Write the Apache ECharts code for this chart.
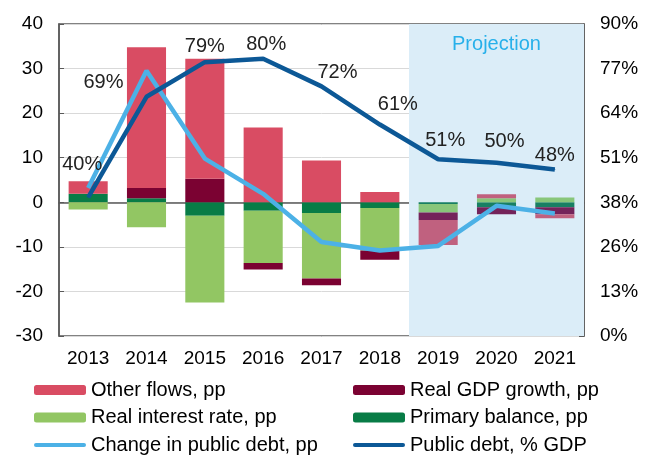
<!DOCTYPE html>
<html>
<head>
<meta charset="utf-8">
<script src="https://cdn.jsdelivr.net/npm/echarts@6/dist/echarts.min.js"></script>
<style>
  html, body { margin: 0; padding: 0; background: #fff; }
  #main { width: 646px; height: 455px; }
</style>
</head>
<body>
<div id="main"></div>
<script>
// data
var years = ["2013", "2014", "2015", "2016", "2017", "2018", "2019", "2020", "2021"];
var primaryBalance = [1.9, 0.9, -3.0, -1.9, -2.4, -1.3, -0.4, -1.1, -1.1];
var realInterest = [-1.6, -5.6, -19.5, -11.7, -14.7, -9.5, -1.9, 0.9, 1.1];
var realGdp = [0, 2.3, 5.3, -1.5, -1.5, -2.1, -1.7, -1.6, -1.6];
var otherFlows = [2.8, 31.6, 26.9, 16.8, 9.4, 2.3, -5.6, 0.9, -0.9];
var changeDebt = [3.2, 29.5, 9.8, 1.9, -8.9, -10.8, -9.8, -0.8, -2.5];
var publicDebt = [40, 69, 79, 80, 72, 61, 51, 50, 48];
var pctTicks = ["0%", "13%", "26%", "38%", "51%", "64%", "77%", "90%"];
var firstProjection = 6; // 2019 onwards

// label nudges for the debt labels (px)
var labelOffsets = [[-6, -33], [-43, -14], [0, -16], [3, -14], [16, -14], [18, -20], [7, -19], [8, -21], [0, -14]];

var font = "Arial, 'Liberation Sans', sans-serif";
var axisColor = "#595959";
// thick rounded line for the legend of the two line series
var lineIcon = "path://M2,0 L50,0 A2,2 0 0 1 50,4 L2,4 A2,2 0 0 1 2,0 Z";

// colours: normal / inside the projection shade
function barData(values, color, fadedColor) {
  return values.map(function (v, i) {
    return { value: v, itemStyle: { color: i >= firstProjection ? fadedColor : color } };
  });
}

var legendBase = {
  orient: "vertical", top: 380, height: 90, padding: 0, itemGap: 7.5,
  itemWidth: 52, itemHeight: 10,
  textStyle: { fontSize: 20, color: "#000", fontFamily: font }
};

var myChart = echarts.init(document.getElementById("main"));
myChart.setOption({
  animation: false,
  textStyle: { fontFamily: font },
  grid: {
    left: 59, right: 62, top: 24, bottom: 119,
    show: true, borderColor: axisColor, borderWidth: 1.5
  },
  legend: [
    Object.assign({}, legendBase, {
      left: 34,
      data: ["Other flows, pp", "Real interest rate, pp",
        { name: "Change in public debt, pp", icon: lineIcon }]
    }),
    Object.assign({}, legendBase, {
      left: 353,
      data: ["Real GDP growth, pp", "Primary balance, pp",
        { name: "Public debt, % GDP", icon: lineIcon }]
    })
  ],
  xAxis: [
    {
      type: "category",
      data: years,
      axisLine: { lineStyle: { color: axisColor, width: 1.5 } },
      axisTick: { inside: true, length: 5, lineStyle: { color: axisColor } },
      axisLabel: { fontSize: 19, color: "#000", margin: 13 }
    },
    { type: "value", min: 0, max: 9, show: false }
  ],
  yAxis: [
    {
      type: "value", min: -30, max: 40, interval: 10,
      axisLine: { show: true, lineStyle: { color: axisColor, width: 1.5 } },
      axisTick: { show: true, inside: true, length: 5, lineStyle: { color: axisColor } },
      axisLabel: { fontSize: 19, color: "#000", margin: 16 },
      splitLine: { lineStyle: { color: "#d9d9d9" } }
    },
    {
      type: "value", min: 0, max: 90, interval: 90 / 7,
      axisLine: { show: true, lineStyle: { color: axisColor, width: 1.5 } },
      axisTick: { show: true, inside: true, length: 5, lineStyle: { color: axisColor } },
      axisLabel: {
        fontSize: 19, color: "#000", margin: 16,
        formatter: function (v) { return pctTicks[Math.round(v / (90 / 7))]; }
      },
      splitLine: { show: false }
    }
  ],
  series: [
    {
      // only carries the projection shade
      name: "shade", type: "line", xAxisIndex: 1, yAxisIndex: 0, data: [],
      markArea: {
        silent: true,
        itemStyle: { color: "#dbedf8" },
        label: {
          show: true, position: "insideTop", distance: 10,
          fontSize: 20, color: "#27b0ea", fontFamily: font
        },
        data: [[{ name: "Projection", xAxis: firstProjection }, { xAxis: years.length }]]
      }
    },
    {
      name: "Primary balance, pp", type: "bar", stack: "d", barWidth: "67%",
      itemStyle: { color: "#087c46" },
      data: barData(primaryBalance, "#087c46", "#187f63")
    },
    {
      name: "Real interest rate, pp", type: "bar", stack: "d",
      itemStyle: { color: "#92c663" },
      data: barData(realInterest, "#92c663", "#88c67a")
    },
    {
      name: "Real GDP growth, pp", type: "bar", stack: "d",
      itemStyle: { color: "#7b0232" },
      data: barData(realGdp, "#7b0232", "#74235a")
    },
    {
      name: "Other flows, pp", type: "bar", stack: "d",
      itemStyle: { color: "#d94c63" },
      data: barData(otherFlows, "#d94c63", "#c0617f")
    },
    {
      name: "Change in public debt, pp", type: "line", z: 5,
      data: changeDebt,
      symbol: "none",
      itemStyle: { color: "#4cb1e6" },
      lineStyle: { color: "#4cb1e6", width: 4.5 }
    },
    {
      name: "Public debt, % GDP", type: "line", yAxisIndex: 1, z: 6,
      data: publicDebt.map(function (v, i) {
        return { value: v, label: { offset: labelOffsets[i] } };
      }),
      symbol: "circle", symbolSize: 1,
      itemStyle: { color: "#0c5896" },
      lineStyle: { color: "#0c5896", width: 4.5 },
      label: {
        show: true, position: "inside", fontSize: 20, color: "#222",
        fontFamily: font,
        formatter: function (p) { return p.value + "%"; }
      }
    }
  ]
});
</script>
</body>
</html>
